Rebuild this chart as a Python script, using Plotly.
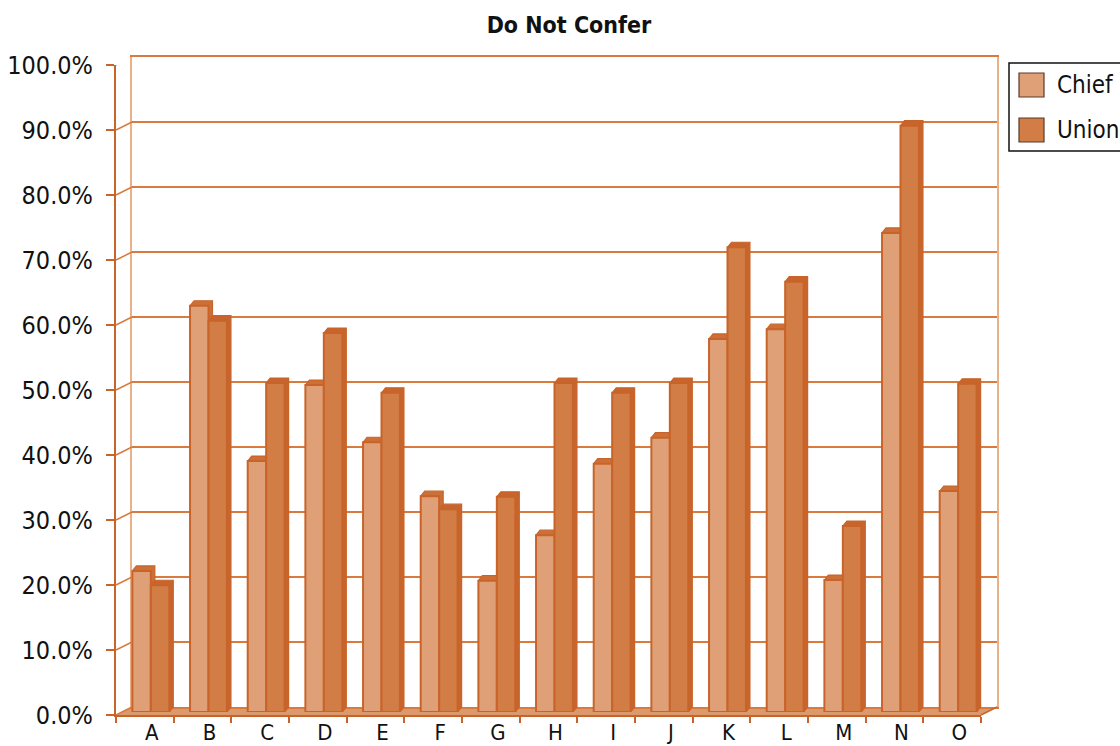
import plotly.graph_objects as go

# ---- data -------------------------------------------------------------
categories = ["A", "B", "C", "D", "E", "F", "G", "H", "I", "J", "K", "L", "M", "N", "O"]
series_names = ["Chief", "Union"]
chief = [21.7, 62.5, 38.6, 50.3, 41.5, 33.2, 20.2, 27.2, 38.2, 42.2, 57.4, 58.9, 20.3, 73.7, 34.0]
union = [19.5, 60.2, 50.6, 58.3, 49.1, 31.2, 33.1, 50.6, 49.1, 50.6, 71.5, 66.2, 28.6, 90.2, 50.5]
y_ticks = [0, 10, 20, 30, 40, 50, 60, 70, 80, 90, 100]
title_text = "Do Not Confer"

# ---- styling ----------------------------------------------------------
W, H = 1120, 746
FONT = "DejaVu Sans Condensed, Liberation Sans, sans-serif"
FACE = {"Chief": "#dfa077", "Union": "#d17d45"}
DEPTH = {"Chief": "#cc7038", "Union": "#c7652c"}
EDGE = "#c8642a"
GRID = "#d97a3e"
WALL_EDGE = "#e9b08a"
FLOOR = "#dc9a6c"

# pixel geometry of the pseudo-3D box
FX0, FX1 = 116, 981          # front plane, left/right
FY0, FY1 = 715, 65           # front plane, 0% / 100%
WALL_DX, WALL_DY = 16, 8     # back wall offset (right, up)
BAR_DX, BAR_DY = 6, 3        # plane of the bar faces
DEP_DX, DEP_DY = 4, 5        # visible depth of each column
BAR_W = 0.32                 # column width in category units

px_per_cat = (FX1 - FX0) / len(categories)
px_per_pct = (FY0 - FY1) / 100.0


def dom_x(a, b):
    return [a / W, b / W]


def dom_y(bottom, top):
    return [1 - bottom / H, 1 - top / H]


fig = go.Figure()

xr = [-0.5, len(categories) - 0.5]

fig.update_layout(
    # front plane axes: axis lines, tick marks, percentage labels
    xaxis=dict(domain=dom_x(FX0, FX1), range=xr, tickmode="array",
               tickvals=list(range(len(categories))), showticklabels=False,
               ticks="", showgrid=False, zeroline=False, showline=True,
               linecolor=EDGE, linewidth=2,
               minor=dict(tickmode="array",
                          tickvals=[i - 0.5 for i in range(len(categories) + 1)],
                          ticks="outside", ticklen=6, tickwidth=2, tickcolor=EDGE),
               fixedrange=True),
    yaxis=dict(domain=dom_y(FY0, FY1), range=[0, 100], tickmode="array",
               tickvals=y_ticks, ticktext=[f"{v:.1f}%" for v in y_ticks],
               ticks="outside", ticklen=8, tickwidth=2, tickcolor=EDGE,
               showgrid=False, zeroline=False, showline=True, linecolor=EDGE,
               linewidth=2, ticklabelstandoff=8,
               tickfont=dict(family=FONT, size=25, color="#111"), fixedrange=True),
    # back wall: gridlines, top/bottom edges and the two vertical edges
    xaxis2=dict(domain=dom_x(FX0 + WALL_DX, FX1 + WALL_DX), range=xr, anchor="y2",
                showticklabels=False, ticks="", showgrid=False, zeroline=False,
                showline=True, mirror=True, linecolor=GRID, linewidth=2),
    yaxis2=dict(domain=dom_y(FY0 - WALL_DY, FY1 - WALL_DY), range=[0, 100], anchor="x2",
                tickmode="array", tickvals=y_ticks, showticklabels=False, ticks="",
                showgrid=True, gridcolor=GRID, gridwidth=2, zeroline=False,
                showline=True, mirror=True, linecolor=WALL_EDGE, linewidth=2),
    # plane of the columns: depth faces underneath, front faces on top
    xaxis3=dict(domain=dom_x(FX0 + BAR_DX, FX1 + BAR_DX), range=xr, anchor="y3",
                tickmode="array", tickvals=list(range(len(categories))),
                ticktext=categories, ticks="", showline=False, showgrid=False,
                zeroline=False, ticklabelshift=1, ticklabelstandoff=5,
                tickfont=dict(family=FONT, size=22, color="#111"), fixedrange=True),
    yaxis3=dict(domain=dom_y(FY0 - BAR_DY, FY1 - BAR_DY), range=[0, 100], anchor="x3",
                visible=False),
    xaxis4=dict(overlaying="x3", range=xr, anchor="y4", visible=False),
    yaxis4=dict(overlaying="y3", range=[0, 100], anchor="x4", visible=False),
)

# empty trace so the back-wall subplot is laid out
fig.add_trace(go.Scatter(x=[None], y=[None], xaxis="x2", yaxis="y2",
                         hoverinfo="skip", showlegend=False))

# column geometry shared by front faces and depth faces
offsets = {"Chief": -BAR_W, "Union": 0.0}
values = {"Chief": chief, "Union": union}
ddx = DEP_DX / px_per_cat
ddy = DEP_DY / px_per_pct

for name in series_names:
    xs, ys = [], []
    for i, v in enumerate(values[name]):
        x0 = i + offsets[name]
        x1 = x0 + BAR_W
        xs += [x0, x0 + ddx, x1 + ddx, x1 + ddx, x1, x1, x0, None]
        ys += [v, v + ddy, v + ddy, ddy, 0, v, v, None]
    fig.add_trace(go.Scatter(x=xs, y=ys, xaxis="x3", yaxis="y3", mode="lines",
                             fill="toself", fillcolor=DEPTH[name],
                             line=dict(color=EDGE, width=1.2),
                             hoverinfo="skip", showlegend=False))

for name in series_names:
    fig.add_trace(go.Bar(x=list(range(len(categories))), y=values[name], name=name,
                         xaxis="x4", yaxis="y4", width=BAR_W, offset=offsets[name],
                         marker=dict(color=FACE[name], line=dict(color=EDGE, width=2)),
                         customdata=categories,
                         hovertemplate="%{customdata}: %{y:.1f}%<extra>" + name + "</extra>",
                         showlegend=False))

shapes = []
# floor band between the front axis and the back wall
floor_path = (f"M {FX0 / W} {1 - FY0 / H} L {FX1 / W} {1 - FY0 / H} "
              f"L {(FX1 + WALL_DX) / W} {1 - (FY0 - WALL_DY) / H} "
              f"L {(FX0 + WALL_DX) / W} {1 - (FY0 - WALL_DY) / H} Z")
shapes.append(dict(type="path", xref="paper", yref="paper", path=floor_path,
                   fillcolor=FLOOR, line=dict(width=0), layer="below"))
# right edge of the floor
shapes.append(dict(type="line", xref="paper", yref="paper",
                   x0=FX1 / W, y0=1 - FY0 / H, x1=(FX1 + WALL_DX) / W,
                   y1=1 - (FY0 - WALL_DY) / H, line=dict(color=EDGE, width=1.5)))
# side-wall connectors from each front tick to the back wall
for v in y_ticks:
    shapes.append(dict(type="line", xref="paper", yref="y",
                       x0=FX0 / W, y0=v, x1=(FX0 + WALL_DX) / W,
                       y1=v + WALL_DY / px_per_pct,
                       line=dict(color=GRID, width=1.5)))

# legend box
LG_X0, LG_Y0, LG_X1, LG_Y1 = 1009, 63, 1130, 151
shapes.append(dict(type="rect", xref="paper", yref="paper",
                   x0=LG_X0 / W, x1=LG_X1 / W, y0=1 - LG_Y1 / H, y1=1 - LG_Y0 / H,
                   line=dict(color="#111", width=1.5), fillcolor="white"))
annotations = []
for k, name in enumerate(series_names):
    cy = 85 + 45 * k
    shapes.append(dict(type="rect", xref="paper", yref="paper",
                       x0=1019 / W, x1=1044 / W, y0=1 - (cy + 12) / H, y1=1 - (cy - 12) / H,
                       fillcolor=FACE[name], line=dict(color="#5a3a28", width=1.2)))
    annotations.append(dict(xref="paper", yref="paper", x=1055 / W, y=1 - cy / H,
                            xanchor="left", yanchor="middle", text=name, showarrow=False,
                            font=dict(family=FONT, size=24, color="#111")))

fig.update_layout(
    width=W, height=H,
    margin=dict(l=0, r=0, t=0, b=0, autoexpand=False),
    paper_bgcolor="white", plot_bgcolor="rgba(0,0,0,0)",
    barmode="overlay", showlegend=False,
    title=dict(text=f"<b>{title_text}</b>", x=569 / W, xanchor="center",
               y=1 - 25 / H, yanchor="middle",
               font=dict(family=FONT, size=23, color="#111")),
    shapes=shapes, annotations=annotations,
)

fig.write_html("out.html")
